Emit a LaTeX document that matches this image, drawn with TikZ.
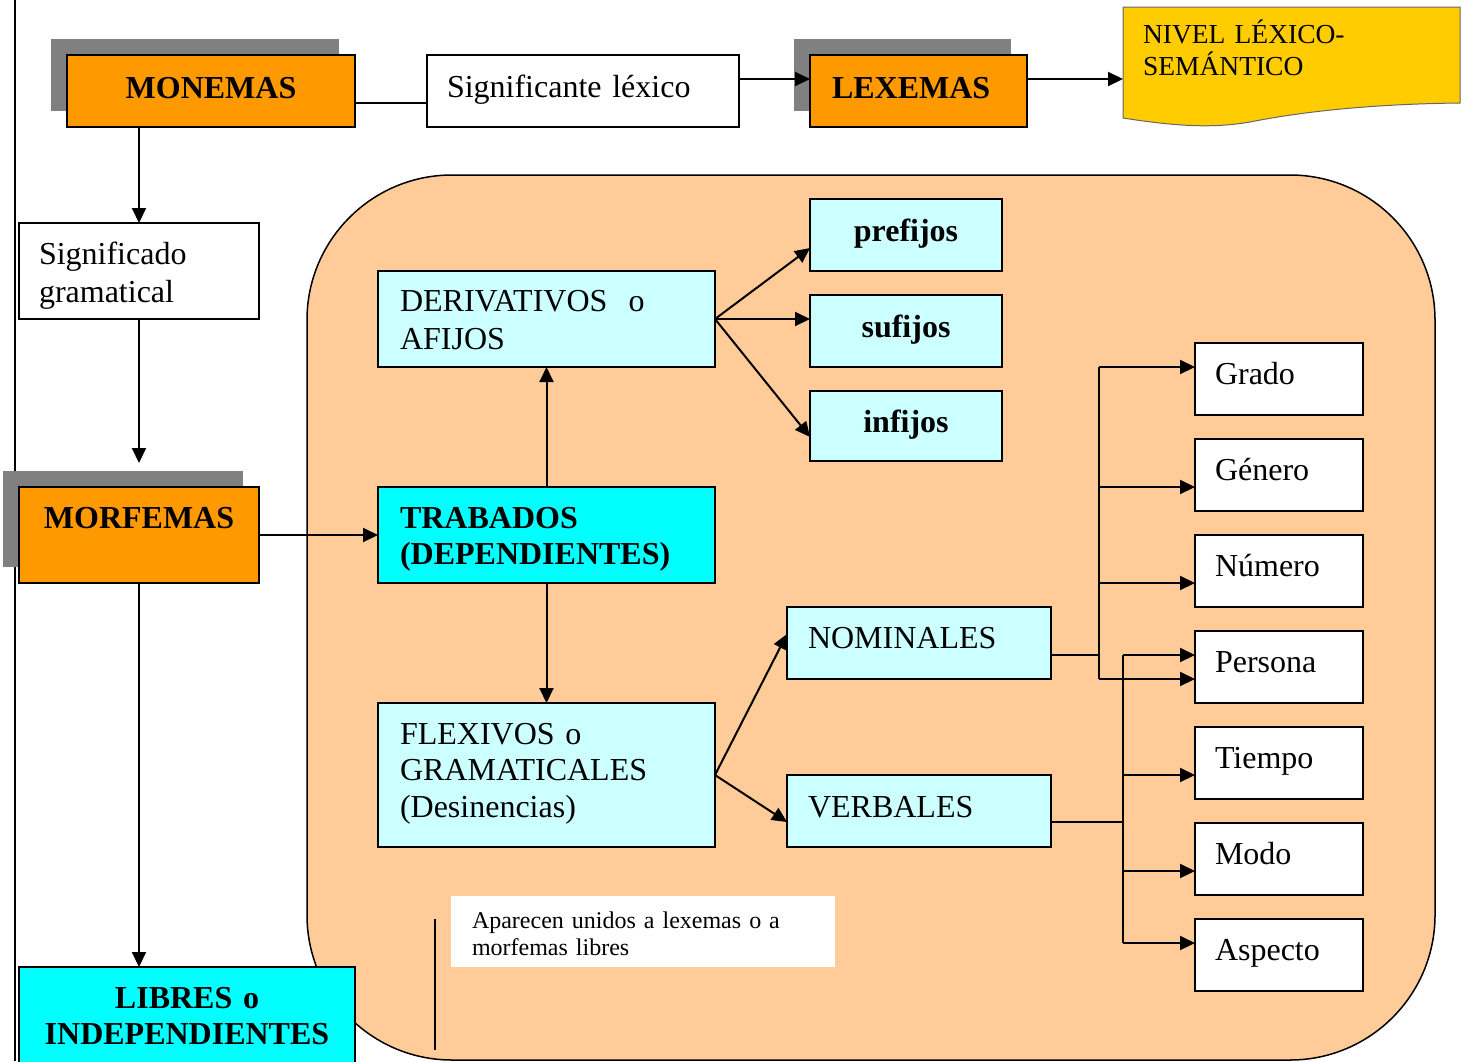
\documentclass[tikz,border=0pt]{standalone}
\usepackage{fontspec}
\setmainfont{Liberation Serif}
\usepackage{tikz}
\usetikzlibrary{arrows.meta,shadows,calc}

\definecolor{naranja}{HTML}{FF9900}
\definecolor{cian}{HTML}{00FFFF}
\definecolor{ciancla}{HTML}{CCFFFF}
\definecolor{melocoton}{HTML}{FFCC99}
\definecolor{oro}{HTML}{FFCC00}
\definecolor{sombra}{HTML}{808080}

\begin{document}
\begin{tikzpicture}[x=1pt,y=-1pt]
\tikzset{
	caja/.style = {draw, line width=2pt, anchor=north west, inner xsep=20pt, inner ysep=0pt, outer sep=0pt, align=left, font=\fontsize{32}{37}\selectfont},
	centrada/.style = {caja, align=center, font=\fontsize{32}{36}\selectfont\bfseries},
	medida/.style n args = {3}{text width=#1, text height=#2, text depth=#3},
	sombreada/.style = {drop shadow={shadow xshift=-16pt, shadow yshift=16pt, fill=sombra, opacity=1}},
	linea/.style = {line width=2pt},
	flecha/.style = {linea, -{Triangle[length=15pt,width=14pt]}},
}
\useasboundingbox (0,0) rectangle (1472,1061);
% margen y zona de los morfemas trabados
\draw[linea] (15,0) -- (15,1061);
\draw[line width=1.5pt, fill=melocoton, rounded corners=145pt] (307,175) rectangle (1435,1060);
\draw[linea] (435,919) -- (435,1050);

% fila de arriba
\node[centrada, sombreada, fill=naranja, medida={248pt}{43pt}{29pt}] (monemas) at (67,55) {MONEMAS};
\node[caja, fill=white, medida={272pt}{42pt}{30pt}] (signlex) at (427,55) {Significante léxico};
\node[caja, sombreada, fill=naranja, inner xsep=22pt, font=\fontsize{32}{37}\selectfont\bfseries, medida={173pt}{43pt}{29pt}] (lexemas) at (810,55) {LEXEMAS};
\draw[line width=1pt, draw=black!60, fill=oro] (1123,7) -- (1460,7) -- (1460,103)
	.. controls (1370,104) and (1300,112) .. (1250,122)
	.. controls (1215,128) and (1180,127) .. (1123,118) -- cycle;
\node[caja, draw=none, font=\fontsize{27.5}{32}\selectfont, medida={297pt}{36pt}{75pt}] (nivel) at (1123,7) {NIVEL LÉXICO-\\SEMÁNTICO};

% columna de la izquierda
\node[caja, fill=white, font=\fontsize{32}{38}\selectfont, medida={200pt}{41pt}{55pt}] (signgram) at (19,223) {Significado\\gramatical};
\node[centrada, sombreada, fill=naranja, inner xsep=16pt, medida={208pt}{41pt}{55pt}] (morfemas) at (19,487) {MORFEMAS};
\node[centrada, fill=cian, medida={296pt}{41pt}{55pt}] (libres) at (19,967) {LIBRES o\\INDEPENDIENTES};

% morfemas trabados
\node[caja, fill=ciancla, inner xsep=22pt, font=\fontsize{32}{38}\selectfont, medida={293pt}{40pt}{56pt}] (deriv) at (378,271) {DERIVATIVOS~~o\\AFIJOS};
\node[centrada, fill=ciancla, inner xsep=10pt, medida={172pt}{42pt}{30pt}] (pref) at (810,199) {prefijos};
\node[centrada, fill=ciancla, inner xsep=10pt, medida={172pt}{42pt}{30pt}] (suf) at (810,295) {sufijos};
\node[centrada, fill=ciancla, inner xsep=10pt, medida={172pt}{41pt}{29pt}] (inf) at (810,391) {infijos};
\node[caja, fill=cian, inner xsep=22pt, font=\fontsize{32}{36}\selectfont\bfseries, medida={293pt}{41pt}{55pt}] (trabados) at (378,487) {TRABADOS\\(DEPENDIENTES)};
\node[caja, fill=ciancla, inner xsep=22pt, font=\fontsize{32}{36.5}\selectfont, medida={293pt}{41pt}{103pt}] (flex) at (378,703) {FLEXIVOS o\\GRAMATICALES\\(Desinencias)};
\node[caja, fill=ciancla, inner xsep=21pt, medida={222pt}{41pt}{31pt}] (nom) at (787,607) {NOMINALES};
\node[caja, fill=ciancla, inner xsep=21pt, medida={222pt}{42pt}{30pt}] (verb) at (787,775) {VERBALES};
\foreach \nombre/\texto/\arriba in {grado/Grado/343, genero/Género/439, numero/Número/535, persona/Persona/631, tiempo/Tiempo/727, modo/Modo/823, aspecto/Aspecto/919}
	\node[caja, fill=white, medida={128pt}{41pt}{31pt}] (\nombre) at (1195,\arriba) {\texto};
\node[caja, draw=none, fill=white, inner xsep=21pt, font=\fontsize{24}{27}\selectfont, medida={342pt}{32pt}{39pt}] (nota) at (451,896) {Aparecen unidos a lexemas o a\\morfemas libres};

% conectores
\draw[linea] ([yshift=-12pt]monemas.east) -- ([yshift=-12pt]signlex.west);
\draw[flecha] ([yshift=12pt]signlex.east) -- ([yshift=12pt]lexemas.west);
\draw[flecha] ([yshift=12pt]lexemas.east) -- ([yshift=12pt]lexemas.east -| nivel.west);
\draw[flecha] (monemas.south -| signgram) -- (signgram.north);
\draw[flecha] (signgram.south) -- ([yshift=24pt]morfemas.north);
\draw[flecha] (morfemas.east) -- (trabados.west);
\draw[flecha] (morfemas.south) -- (morfemas.south |- libres.north);
\draw[flecha] (trabados.north) -- (deriv.south);
\draw[flecha] (trabados.south) -- (flex.north);
\draw[flecha] (deriv.east) -- ([yshift=-13pt]pref.west);
\draw[flecha] (deriv.east) -- (deriv.east -| suf.west);
\draw[flecha] (deriv.east) -- ([yshift=-11pt]inf.west);
\draw[flecha] (flex.east) -- ([yshift=9pt]nom.west);
\draw[flecha] (flex.east) -- ([yshift=-11pt]verb.west);

\draw[linea] ([yshift=-12pt]nom.east) -- ++(48,0) coordinate (busnom);
\draw[linea] ([yshift=12pt]grado.west -| busnom) -- ([yshift=-12pt]persona.west -| busnom);
\foreach \nombre/\dy in {grado/12pt, genero/-12pt, numero/-12pt, persona/-12pt}
	\draw[flecha] ([yshift=\dy]\nombre.west -| busnom) -- ([yshift=\dy]\nombre.west);
\draw[linea] ([yshift=-11pt]verb.east) -- ++(72,0) coordinate (busverb);
\draw[linea] ([yshift=12pt]persona.west -| busverb) -- ([yshift=12pt]aspecto.west -| busverb);
\foreach \nombre/\dy in {persona/12pt, tiempo/-12pt, modo/-12pt, aspecto/12pt}
	\draw[flecha] ([yshift=\dy]\nombre.west -| busverb) -- ([yshift=\dy]\nombre.west);
\end{tikzpicture}
\end{document}
